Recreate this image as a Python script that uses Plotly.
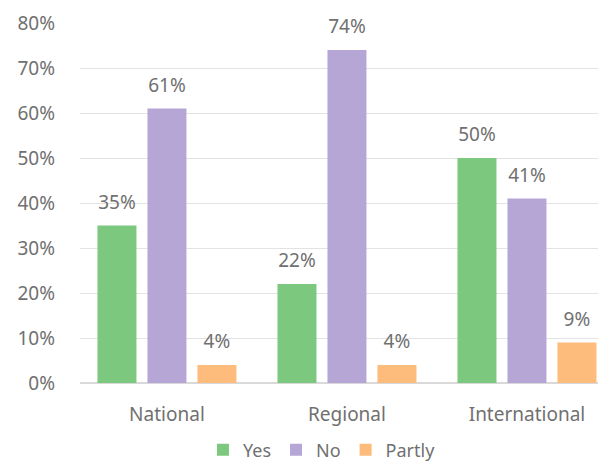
import plotly.graph_objects as go

categories = ["National", "Regional", "International"]
yes_values = [0.35, 0.22, 0.50]
no_values = [0.61, 0.74, 0.41]
partly_values = [0.04, 0.04, 0.09]

series = [
    ("Yes", yes_values, "#7dc87f"),
    ("No", no_values, "#b6a6d6"),
    ("Partly", partly_values, "#fdbb7c"),
]

font_family = "'Noto Sans', 'Open Sans', sans-serif"
text_grey = "#707070"

fig = go.Figure()
for name, values, color in series:
    fig.add_trace(
        go.Bar(
            name=name,
            x=categories,
            y=values,
            marker=dict(color=color, line=dict(width=0)),
            offsetgroup="bar_" + name,
            alignmentgroup="bars",
        )
    )

# value labels, placed a little above each bar (same grouping as the bars)
for name, values, color in series:
    fig.add_trace(
        go.Scatter(
            x=categories,
            y=values,
            mode="markers+text",
            marker=dict(size=18, opacity=0),
            text=[f"{v:.0%}" for v in values],
            textposition="top center",
            textfont=dict(size=19, color=text_grey, family=font_family),
            offsetgroup="lbl_" + name,
            alignmentgroup="labels",
            showlegend=False,
            hoverinfo="skip",
            cliponaxis=False,
        )
    )

# page body has an 8px margin, so the figure is 8px smaller and margins shifted
fig.update_layout(
    width=598,
    height=457,
    barmode="group",
    bargap=0.167,
    bargroupgap=0.22,
    scattermode="group",
    scattergap=0.167,
    plot_bgcolor="white",
    paper_bgcolor="white",
    margin=dict(l=72, r=0, t=15, b=82, autoexpand=False),
    font=dict(family=font_family, size=19, color=text_grey),
    legend=dict(
        orientation="h",
        x=0.46,
        xanchor="center",
        y=-0.135,
        yanchor="top",
        font=dict(size=18, color=text_grey),
        itemwidth=30,
        traceorder="normal",
    ),
    showlegend=True,
)

fig.update_yaxes(
    range=[0, 0.8],
    dtick=0.1,
    tickformat=".0%",
    showgrid=True,
    gridcolor="#e3e3e3",
    gridwidth=1,
    zeroline=True,
    zerolinecolor="#d9d9d9",
    ticklabelstandoff=24,
    tickfont=dict(size=19, color=text_grey),
)
fig.update_xaxes(
    range=[-0.483, 2.439],
    showline=False,
    ticks="",
    ticklabelstandoff=18,
    tickfont=dict(size=19, color=text_grey),
)

fig.write_html("out.html")
